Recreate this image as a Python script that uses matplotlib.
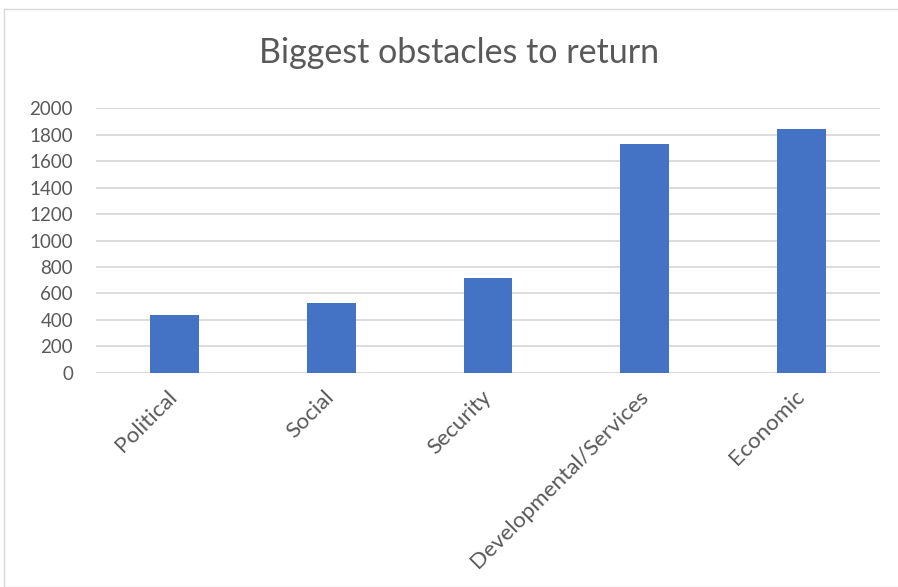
import matplotlib
matplotlib.use("Agg")
import matplotlib.pyplot as plt
from matplotlib.patches import Rectangle

categories = ["Political", "Social", "Security", "Developmental/Services", "Economic"]
values = [436, 525, 720, 1728, 1846]
y_ticks = [0, 200, 400, 600, 800, 1000, 1200, 1400, 1600, 1800, 2000]

W, H = 898, 587
fig = plt.figure(figsize=(W / 100, H / 100), dpi=100)
plt.rcParams["font.family"] = ["Lato", "DejaVu Sans"]
text_color = "#595959"
grid_color = "#D9D9D9"

# chart outline
fig.patches.append(Rectangle((4 / W, 0), 1.2, (H - 9) / H, transform=fig.transFigure,
                             fill=False, edgecolor=grid_color, linewidth=1.0))

ax = fig.add_axes([96 / W, (H - 372.7) / H, (880 - 96) / W, (372.7 - 108.3) / H])
x = range(len(categories))
ax.bar(x, values, width=0.31, color="#4472C4", zorder=3)

ax.set_xlim(-0.5, len(categories) - 0.5)
ax.set_ylim(0, 2000)
ax.set_yticks(y_ticks)
ax.set_yticklabels([str(v) for v in y_ticks])
ax.yaxis.grid(True, color=grid_color, linewidth=1.3, zorder=0)
ax.set_axisbelow(True)
for s in ax.spines.values():
    s.set_visible(False)
ax.tick_params(axis="y", length=0, pad=16.5, labelsize=13.5, labelcolor=text_color)
ax.tick_params(axis="x", length=0, pad=15, labelsize=16.2, labelcolor=text_color)
ax.set_xticks(list(x))
ax.set_xticklabels(categories, rotation=45, ha="right", rotation_mode="anchor")
for lbl in ax.get_xticklabels():
    lbl.set_va("center")

fig.text(459 / W, 1 - 53 / H, "Biggest obstacles to return", ha="center", va="center",
         fontsize=24.5, color=text_color)

fig.savefig("out.png", dpi=100, facecolor="white")
